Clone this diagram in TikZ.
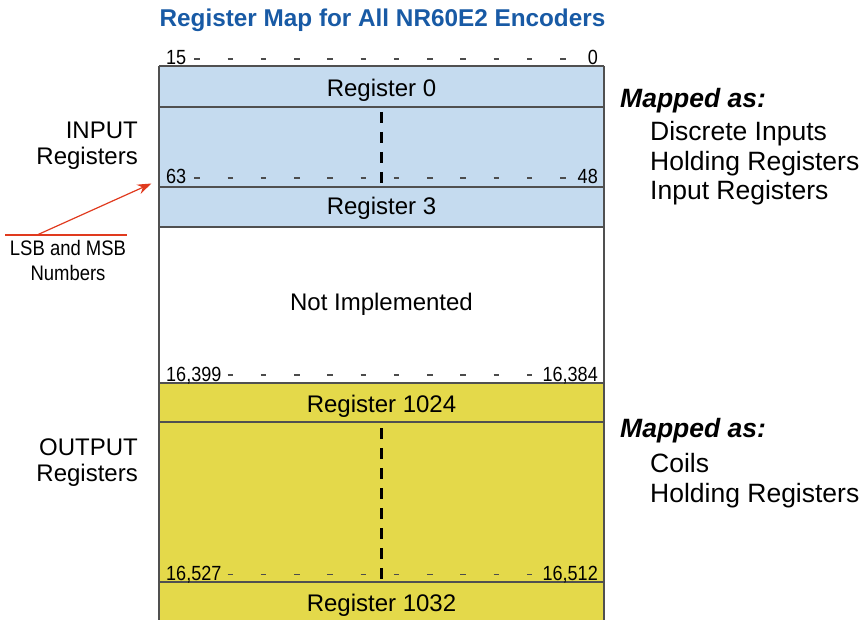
\documentclass[tikz,border=0pt]{standalone}
\usepackage{fontspec}
\setmainfont{Liberation Sans}
\newfontfamily\narrowsans[FakeStretch=0.88]{Liberation Sans}
\usetikzlibrary{arrows.meta,positioning}
\definecolor{inblue}{RGB}{197,219,239}
\definecolor{outyellow}{RGB}{228,217,74}
\definecolor{titleblue}{RGB}{24,90,165}
\definecolor{rimgray}{RGB}{80,80,80}
\definecolor{leadred}{RGB}{224,58,30}
\tikzset{
  regtext/.style={anchor=base, inner sep=0pt, font=\fontsize{24}{28}\selectfont},
  bitnum/.style={inner sep=0pt, font=\narrowsans\fontsize{20.5}{24}\selectfont},
  sidetext/.style={anchor=base east, inner sep=0pt, font=\fontsize{24}{28}\selectfont},
  maptext/.style={anchor=base west, inner sep=0pt, font=\fontsize{26.5}{30}\selectfont},
  maphead/.style={anchor=base west, inner sep=0pt, font=\fontsize{26.5}{30}\selectfont\bfseries\itshape},
  bitdash/.style={draw=gray!60!black, line width=1.4pt},
  colline/.style={draw=rimgray, line width=1.6pt},
  midcut/.style={line width=3pt, dash pattern=on 11pt off 9pt}
}

\begin{document}
\begin{tikzpicture}[x=1pt,y=-1pt]
  \useasboundingbox (0,0) rectangle (862,620);
  \node[anchor=base, inner sep=0pt, text=titleblue, font=\fontsize{24.3}{28}\selectfont\bfseries] (title) at (382.5,26.5) {Register Map for All NR60E2 Encoders};

  % register column
  \fill[inblue] (159,66) rectangle (604,227);
  \fill[outyellow] (159,383) rectangle (604,622);
  \foreach \y in {66,107,187,227,383,422,582} \draw[colline] (159,\y) -- (604,\y);
  \draw[colline] (159,66) -- (159,622);
  \draw[colline] (604,66) -- (604,622);
  \draw[midcut] (381.5,112) -- (381.5,183);
  \draw[midcut] (381.5,428) -- (381.5,579);

  % bit dashes
  \foreach \k in {0,...,11} {
    \draw[bitdash] ({194.3+33.27*\k},59) -- ++(5.4,0);
    \draw[bitdash] ({194.3+33.27*\k},178) -- ++(5.4,0);
  }
  \foreach \k in {1,...,10} {
    \draw[bitdash] ({194.3+33.27*\k},375) -- ++(5.4,0);
    \draw[bitdash] ({194.3+33.27*\k},574.5) -- ++(5.4,0);
  }

  \node[bitnum, anchor=base west] (bit15) at (166,65) {15};
  \node[bitnum, anchor=base east] (bit0) at (598,65) {0};
  \node[bitnum, anchor=base west] (bit63) at (166,184) {63};
  \node[bitnum, anchor=base east] (bit48) at (598,184) {48};
  \node[bitnum, anchor=base west] (bit16399) at (166,381) {16,399};
  \node[bitnum, anchor=base east] (bit16384) at (598,381) {16,384};
  \node[bitnum, anchor=base west] (bit16527) at (166,580.5) {16,527};
  \node[bitnum, anchor=base east] (bit16512) at (598,580.5) {16,512};

  \node[regtext] (reg0) at (381.5,96.5) {Register 0};
  \node[regtext] (reg3) at (381.5,215) {Register 3};
  \node[regtext] (notimpl) at (381.5,310) {Not Implemented};
  \node[regtext] (reg1024) at (381.5,412) {Register 1024};
  \node[regtext] (reg1032) at (381.5,611) {Register 1032};

  % left side
  \node[sidetext] (inA) at (138,139) {INPUT};
  \node[sidetext] (inB) at (138,165) {Registers};
  \node[sidetext] (outA) at (138,455) {OUTPUT};
  \node[sidetext] (outB) at (138,481) {Registers};
  \node[bitnum, anchor=base, font=\narrowsans\fontsize{21}{24}\selectfont] (lsbA) at (68,255.5) {LSB and MSB};
  \node[bitnum, anchor=base, font=\narrowsans\fontsize{21}{24}\selectfont] (lsbB) at (68,280.5) {Numbers};
  \coordinate (leadL) at (5,235);
  \coordinate (leadR) at (127,235);
  \coordinate (leadK) at (37,235);
  \draw[leadred, line width=1.1pt] (leadL) -- (leadR);
  \draw[leadred, line width=1.2pt, -{Stealth[length=14pt,width=10pt]}, shorten >=16pt] (leadK) -- (bit63.west);

  % right side
  \node[maphead] (mapin) at (620,108) {Mapped as:};
  \node[maptext] (mapinA) at (650,141) {Discrete Inputs};
  \node[maptext] (mapinB) at (650,170.5) {Holding Registers};
  \node[maptext] (mapinC) at (650,200) {Input Registers};
  \node[maphead] (mapout) at (620,437) {Mapped as:};
  \node[maptext] (mapoutA) at (650,472) {Coils};
  \node[maptext] (mapoutB) at (650,502) {Holding Registers};
\end{tikzpicture}
\end{document}
